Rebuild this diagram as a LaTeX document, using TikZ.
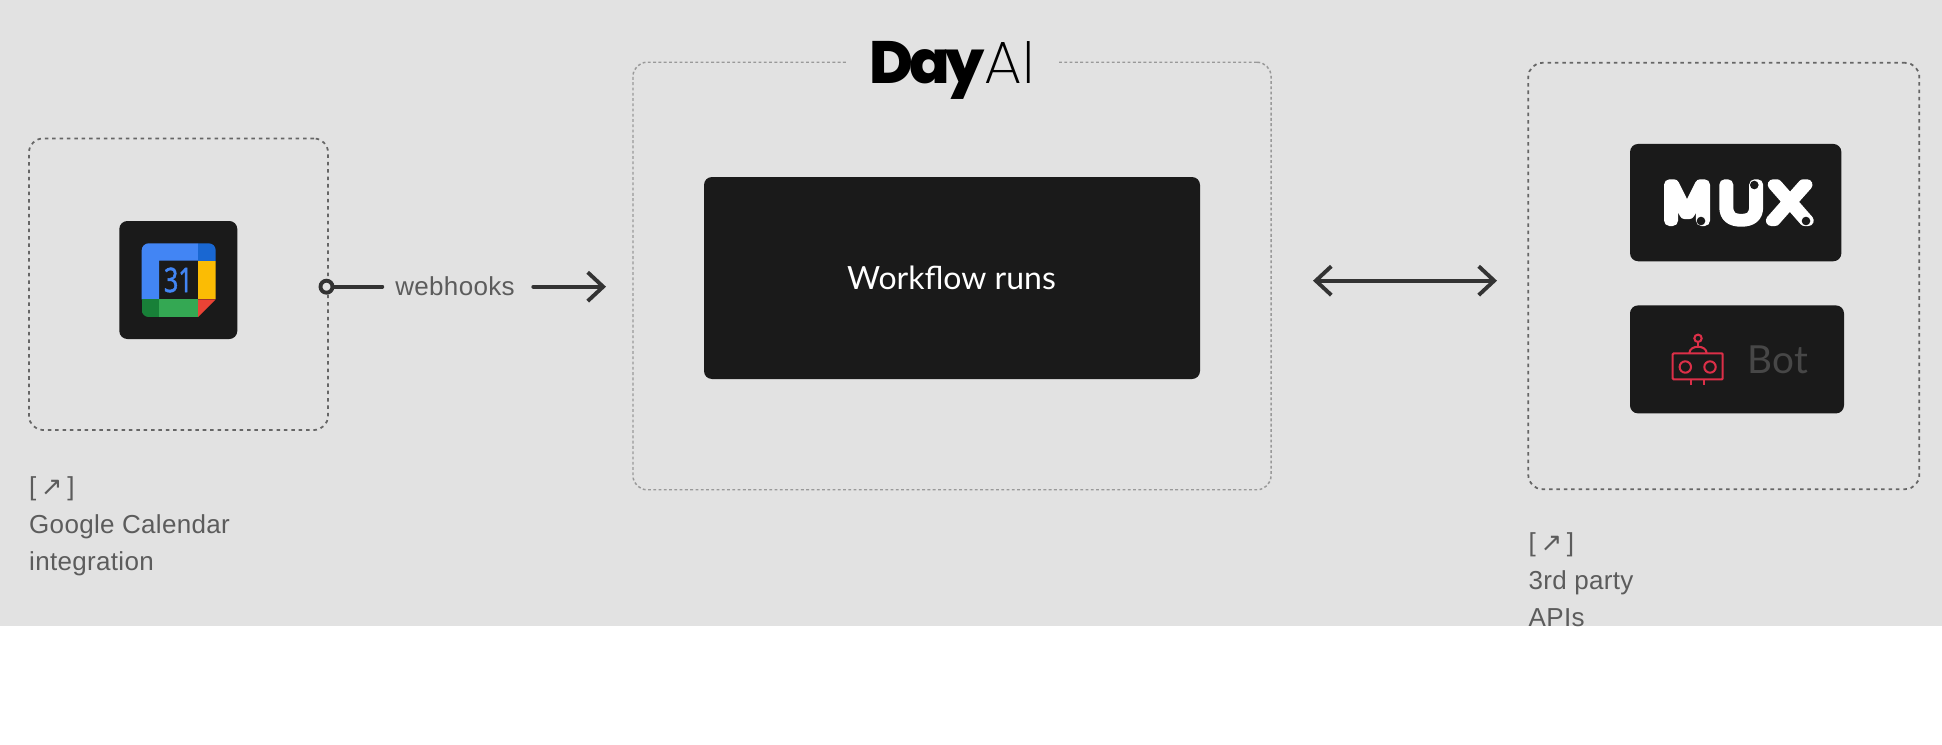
\documentclass[tikz,border=0pt]{standalone}
\usepackage{fontspec}
\usetikzlibrary{arrows.meta}
\setmainfont{Liberation Sans}[LetterSpace=1.2]
\newfontfamily\arrowfont{DejaVu Sans}
\newfontfamily\bodyfont{Lato}
\newfontfamily\dayfont{Poppins ExtraBold}[LetterSpace=-7]
\newfontfamily\aifont{Poppins ExtraLight}
\newfontfamily\muxfont{DejaVu Sans ExtraLight}[FakeBold=22, FakeStretch=1.32, LetterSpace=5]
\newfontfamily\datefont{Open Sans}[FakeStretch=0.74, FakeBold=1.5]
\definecolor{bggray}{HTML}{E2E2E2}
\definecolor{tile}{HTML}{1A1A1A}
\definecolor{ink}{HTML}{333333}
\definecolor{labelgray}{HTML}{5C5C5C}
\definecolor{botred}{HTML}{DC2F48}
\definecolor{calblue}{HTML}{4285F4}
\definecolor{caldark}{HTML}{1967D2}
\definecolor{calyellow}{HTML}{FBBC04}
\definecolor{calgreen}{HTML}{34A853}
\definecolor{caldeep}{HTML}{188038}
\definecolor{calred}{HTML}{EA4335}
\begin{document}
\begin{tikzpicture}[>={Straight Barb[length=4.4pt,width=8.2pt]},
        frame/.style={draw=#1, rounded corners=.14cm, line width=.5pt, dash pattern=on 1pt off 1.1pt},
        tilebox/.style={fill=tile, rounded corners=.08cm, inner sep=0pt},
        conn/.style={ink, line width=1.1pt, line cap=round},
        lbl/.style={labelgray, align=left, anchor=north west, inner sep=0pt, font=\fontsize{7.4pt}{10.67pt}\selectfont},
        robot/.style={botred, line width=.58pt}]
        \useasboundingbox (0,0) rectangle (19.42,7.44);
        \fill[bggray] (0,1.18) rectangle (19.42,7.44);
        % ---- Google Calendar ----
        \node[frame=black!60, minimum width=2.99cm, minimum height=2.915cm] (gbox) at (1.785,4.5975) {};
        \node[tilebox, minimum width=1.18cm, minimum height=1.18cm] (gtile) at (1.783,4.64) {};
        \begin{scope}
          \clip[rounded corners=.07cm] (1.417,4.27) rectangle (2.157,5.007);
          \fill[calblue] (1.417,5.007) -| (1.98,4.833) -| (1.59,4.447) -| cycle;
          \fill[caldark] (1.98,4.833) rectangle (2.157,5.007);
          \fill[calyellow] (1.98,4.447) rectangle (2.157,4.833);
          \fill[caldeep] (1.417,4.27) rectangle (1.59,4.447);
          \fill[calgreen] (1.59,4.27) rectangle (1.98,4.447);
          \fill[calred] (1.98,4.447) -- (2.157,4.447) -- (1.98,4.27) -- cycle;
        \end{scope}
        \node[calblue, inner sep=0pt, font=\datefont\fontsize{9.6pt}{9.6pt}\selectfont] (gdate) at (1.783,4.64) {31};
        \node[lbl] (glabel) at (.285,2.68) {[\kern1.3pt{\arrowfont\fontsize{7.4pt}{7.4pt}\selectfont ↗}\kern1.3pt]\\Google Calendar\\integration};
        % ---- webhooks ----
        \node[draw=ink, circle, line width=1.1pt, fill=bggray, minimum size=.12cm, inner sep=0pt] (hookdot) at (3.265,4.573) {};
        \node[labelgray, inner sep=0pt, minimum width=1.44cm, font=\fontsize{7.4pt}{8pt}\selectfont] (hook) at (4.55,4.573) {webhooks};
        \coordinate (dayin) at (6.06,4.573);
        \draw[conn] (hookdot) -- (hook);
        \draw[conn, ->, shorten <=.056cm] (hook) -- (dayin);
        % ---- Day AI ----
        \node[frame=black!40, line width=.42pt, dash pattern=on .8pt off .7pt, minimum width=6.38cm, minimum height=4.275cm] (daybox) at (9.52,4.68) {};
        \node[fill=bggray, inner sep=0pt, minimum width=2.12cm, font=\fontsize{17pt}{17pt}\selectfont] (daytitle) at (9.52,6.74) {{\dayfont Day}{\aifont AI}};
        \node[tilebox, minimum width=4.96cm, minimum height=2.02cm] (runs) at (9.52,4.66) {};
        \node[white, inner sep=0pt, font=\bodyfont\fontsize{9.1pt}{10pt}\selectfont] (runstext) at (9.515,4.665) {Workflow runs};
        % ---- 3rd party ----
        \coordinate (apiout) at (13.13,4.633);
        \coordinate (apiin) at (14.97,4.633);
        \draw[conn, <->] (apiout) -- (apiin);
        \node[frame=black!60, minimum width=3.91cm, minimum height=4.263cm] (apibox) at (17.238,4.68) {};
        \node[tilebox, minimum width=2.113cm, minimum height=1.173cm] (muxtile) at (17.357,5.414) {};
        \begin{scope}[line join=round]
          \node[white, inner sep=0pt, font=\muxfont\fontsize{14pt}{14pt}\selectfont] (muxname) at (17.355,5.41) {MUX};
        \end{scope}
        \foreach \p in {(17.01,5.23),(17.543,5.59),(18.06,5.23)}
          \fill[tile] \p circle (.043);
        \node[tilebox, minimum width=2.14cm, minimum height=1.08cm] (bottile) at (17.37,3.846) {};
        \draw[robot, rounded corners=.01cm] (16.727,3.906) rectangle (17.227,3.646);
        \foreach \x in {16.853,17.10}
          \draw[robot] (\x,3.77) circle (.057);
        \foreach \x in {16.907,17.043}
          \draw[robot] (\x,3.646) -- (\x,3.59);
        \draw[robot] (16.893,3.906) .. controls (16.893,3.995) and (17.067,3.995) .. (17.067,3.906);
        \draw[robot] (16.98,3.973) -- (16.98,4.02);
        \draw[robot] (16.98,4.057) circle (.037);
        \node[black!72, inner sep=0pt, anchor=base west, font=\bodyfont\fontsize{11pt}{12pt}\selectfont] (botname) at (17.47,3.707) {Bot};
        \begin{scope}
          \clip (0,1.18) rectangle (19.42,7.44);
          \node[lbl] (apilabel) at (15.28,2.12) {[\kern1.3pt{\arrowfont\fontsize{7.4pt}{7.4pt}\selectfont ↗}\kern1.3pt]\\3rd party\\APIs};
        \end{scope}
    \end{tikzpicture}
\end{document}
